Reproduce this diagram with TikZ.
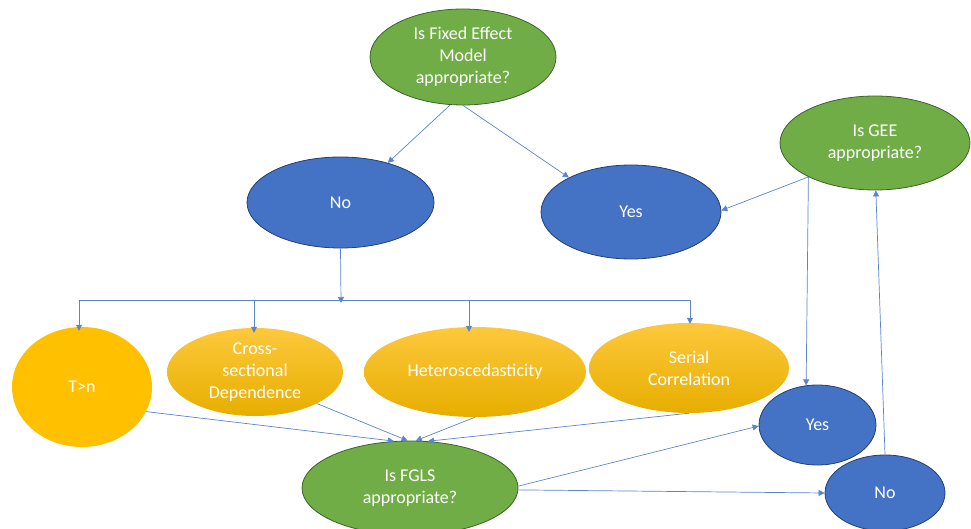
\documentclass[tikz,border=0pt]{standalone}
\usepackage{fontspec}
\setmainfont{Carlito}
\usetikzlibrary{shapes.geometric,arrows.meta}
\definecolor{cgreen}{HTML}{70AD47}
\definecolor{cgreenb}{HTML}{3E6428}
\definecolor{cblue}{HTML}{4472C4}
\definecolor{cblueb}{HTML}{253F72}
\definecolor{cyel}{HTML}{FFC000}
\definecolor{cyeltop}{HTML}{FDC83C}
\definecolor{cyelbot}{HTML}{E7AE00}
\definecolor{carrow}{HTML}{5B84CC}
\tikzset{
  ell/.style={ellipse, inner sep=0pt, text=white, align=center,
    font=\fontsize{18}{22}\selectfont},
  greennode/.style={ell, fill=cgreen, draw=cgreenb, line width=0.8pt},
  bluenode/.style={ell, fill=cblue, draw=cblueb, line width=0.8pt},
  yelflat/.style={ell, fill=cyel},
  yelgrad/.style={ell, top color=cyeltop, middle color=cyel, bottom color=cyelbot},
  arr/.style={draw=carrow, line width=0.7pt, -{Triangle[width=6pt,length=6pt]}},
  ln/.style={draw=carrow, line width=0.7pt}
}
\begin{document}
\begin{tikzpicture}[x=1pt,y=-1pt]
\useasboundingbox (0,0) rectangle (971,529);
\begin{scope}
\clip (0,0) rectangle (971,529);
\node[greennode, minimum width=186pt, minimum height=96pt] (top) at (463,57) {Is Fixed Effect\\Model\\appropriate?};
\node[bluenode, minimum width=187pt, minimum height=91pt] (no) at (340.5,202.5) {No};
\node[bluenode, minimum width=180pt, minimum height=94pt] (yes) at (631,212) {Yes};
\node[greennode, minimum width=190pt, minimum height=94pt] (gee) at (875,143) {Is GEE\\appropriate?};
\node[yelflat, minimum width=140pt, minimum height=120pt] (tn) at (82,387) {T>n};
\node[yelgrad, minimum width=176pt, minimum height=88pt] (cross) at (255,372) {Cross-\\sectional\\Dependence};
\node[yelgrad, minimum width=222pt, minimum height=90pt] (het) at (475,372) {Heteroscedasticity};
\node[yelgrad, minimum width=200pt, minimum height=90pt] (ser) at (689,368) {Serial\\Correlation};
\node[greennode, minimum width=216pt, minimum height=94pt] (fgls) at (410,488) {Is FGLS\\appropriate?};
\node[bluenode, minimum width=117pt, minimum height=80pt] (yes2) at (817.5,425) {Yes};
\node[bluenode, minimum width=120pt, minimum height=76pt] (no2) at (885,493) {No};
\end{scope}

\coordinate (busc) at (341,300);
\coordinate (busl) at (79,300);
\coordinate (bus2) at (254,300);
\coordinate (bus3) at (469,300);
\coordinate (busr) at (690,300);

\draw[arr] (top.255) -- (no.40);
\draw[arr] (top.270) -- (yes.151);
\draw[arr] (gee.207) -- (yes.1);
\draw[arr] (gee.207) -- (yes2.106);
\draw[arr] (no2.90) -- (gee.271);

\draw[arr] (no.south) -- ([yshift=-3pt]busc);
\draw[ln] (busl) -- (busr);
\draw[arr] (busl) -- ([yshift=-4pt]busl |- tn.north);
\draw[arr] (bus2) -- ([yshift=-5pt]bus2 |- cross.north);
\draw[arr] (bus3) -- ([yshift=-5pt]bus3 |- het.north);
\draw[arr] (busr) -- ([yshift=-1pt]busr |- ser.north);

\draw[arr] (tn.339) -- (fgls.109);
\draw[arr] (cross.333) -- (fgls.93);
\draw[arr] (het.270) -- (fgls.83);
\draw[arr] (ser.270) -- (fgls.69);

\draw[arr] (fgls.1) -- (yes2.181);
\draw[arr] (fgls.359) -- (no2.180);
\end{tikzpicture}
\end{document}
